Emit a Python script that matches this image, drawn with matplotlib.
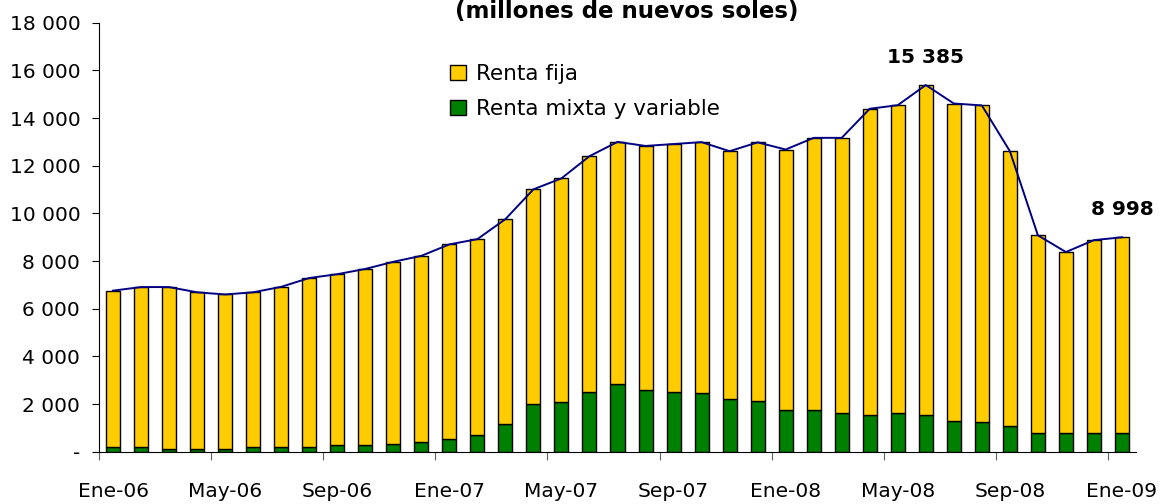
import matplotlib
matplotlib.use("Agg")
import matplotlib.pyplot as plt
import numpy as np

# data ###################
meses = ["Ene-06", "Feb-06", "Mar-06", "Abr-06", "May-06", "Jun-06", "Jul-06", "Ago-06",
         "Sep-06", "Oct-06", "Nov-06", "Dic-06",
         "Ene-07", "Feb-07", "Mar-07", "Abr-07", "May-07", "Jun-07", "Jul-07", "Ago-07",
         "Sep-07", "Oct-07", "Nov-07", "Dic-07",
         "Ene-08", "Feb-08", "Mar-08", "Abr-08", "May-08", "Jun-08", "Jul-08", "Ago-08",
         "Sep-08", "Oct-08", "Nov-08", "Dic-08",
         "Ene-09"]
renta_fija = [6550, 6700, 6780, 6560, 6470, 6480, 6710, 7080, 7150, 7370, 7660, 7820,
              8180, 8230, 8590, 9020, 9390, 9880, 10160, 10230, 10390, 10540, 10380, 10840,
              10930, 11420, 11560, 12850, 12930, 13845, 13310, 13290, 11530, 8300, 7600, 8100,
              8218]
renta_variable = [210, 210, 130, 130, 130, 210, 210, 210, 300, 300, 310, 400,
                  520, 690, 1170, 1990, 2080, 2520, 2840, 2600, 2520, 2450, 2230, 2140,
                  1750, 1750, 1610, 1540, 1610, 1540, 1300, 1240, 1080, 780, 780, 780,
                  780]
etiquetas = {29: "15 385", 36: "8 998"}
##########################

total = np.array(renta_fija) + np.array(renta_variable)
x = np.arange(len(meses))

plt.rcParams.update({
    "font.family": "DejaVu Sans",
    "font.size": 14.5,
})

fig = plt.figure(figsize=(11.62, 5.04), dpi=100)
ax = fig.add_axes([99/1162, (504-451.8)/504, (1136-99)/1162, (451.8-22.7)/504])

amarillo = "#FFCC00"
verde = "#008000"

# stacked bars
ax.bar(x, renta_variable, width=0.5, color=verde, edgecolor="black",
       linewidth=1.0, label="Renta mixta y variable", zorder=2)
ax.bar(x, renta_fija, width=0.5, bottom=renta_variable, color=amarillo,
       edgecolor="black", linewidth=1.0, label="Renta fija", zorder=2)

# total line
ax.plot(x, total, color="#000080", lw=1.4, zorder=3)

# value labels
for k, txt in etiquetas.items():
    ax.annotate(txt, (x[k], total[k]), xytext=(0, 20), textcoords="offset points",
                ha="center", va="center", fontweight="bold")

# axes
ax.set_xlim(-0.5, len(meses) - 0.5)
ax.set_ylim(0, 18000)
ax.spines["top"].set_visible(False)
ax.spines["right"].set_visible(False)

yt = np.arange(0, 18001, 2000)
ax.set_yticks(yt)
ax.set_yticklabels(["-" if v == 0 else f"{v:,}".replace(",", " ") for v in yt])
ax.tick_params(axis="y", length=5, pad=8.5)

ax.set_xticks(np.arange(-0.5, len(meses), 4))
ax.set_xticklabels([])
ax.set_xticks(x[::4], minor=True)
ax.set_xticklabels(meses[::4], minor=True)
ax.tick_params(axis="x", which="major", length=6, color="#606060")
ax.tick_params(axis="x", which="minor", length=0, pad=22)

# legend
h, l = ax.get_legend_handles_labels()
fig.legend(h[::-1], l[::-1], loc="upper left", bbox_to_anchor=(450/1162, (504-64)/504),
           frameon=False, handlelength=0.75, handleheight=0.75, handletextpad=0.45,
           labelspacing=0.7, borderaxespad=0, borderpad=0, fontsize=15.5)

# title, partially cut at the top
fig.text(627/1162, (504-18)/504, "(millones de nuevos soles)", ha="center",
         va="baseline", fontweight="bold", fontsize=16.5)

fig.savefig("out.png", dpi=100)
